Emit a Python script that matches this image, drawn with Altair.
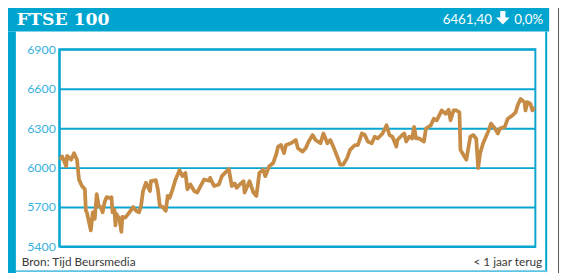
import altair as alt
import pandas as pd

# ---- data ----
days = [0, 2, 6, 7, 11, 14, 17, 19, 22, 25,
        26, 27, 31, 33, 35, 37, 39, 41, 43, 45,
        47, 51, 52, 53, 55, 56, 57, 60, 62, 63,
        66, 69, 74, 77, 80, 82, 84, 87, 91, 92,
        97, 99, 101, 104, 107, 109, 111, 114, 117, 121,
        124, 127, 129, 132, 136, 139, 141, 146, 151, 152,
        156, 161, 164, 171, 174, 177, 179, 182, 186, 187,
        192, 196, 199, 202, 206, 208, 212, 216, 219, 221,
        224, 227, 229, 234, 239, 241, 246, 249, 252, 256,
        259, 264, 267, 271, 274, 277, 281, 284, 287, 291,
        294, 299, 302, 306, 309, 312, 316, 319, 322, 327,
        331, 334, 337, 341, 342, 347, 349, 351, 354, 357,
        359, 361, 364, 369, 371, 376, 379, 382, 387, 391,
        394, 396, 399, 402, 405, 406, 409, 412, 416, 419,
        422, 424, 426, 429, 434, 437, 441, 444, 446, 451,
        454, 459, 462, 464, 467, 471, 472, 474, 477, 479,
        481]
values = [6060, 6085, 6010, 6090, 6060, 6110, 6060, 5910, 5860, 5835,
          5672, 5660, 5522, 5660, 5610, 5798, 5710, 5700, 5660, 5737,
          5775, 5768, 5775, 5660, 5680, 5560, 5648, 5610, 5512, 5625,
          5620, 5648, 5700, 5672, 5660, 5710, 5822, 5885, 5822, 5897,
          5905, 5835, 5710, 5700, 5672, 5785, 5770, 5835, 5910, 5980,
          5935, 5960, 5835, 5872, 5822, 5810, 5840, 5910, 5900, 5922,
          5860, 5872, 5935, 5990, 5860, 5880, 5847, 5870, 5897, 5810,
          5897, 5810, 5785, 5960, 5985, 5935, 6010, 6035, 6098, 6160,
          6172, 6110, 6172, 6185, 6210, 6148, 6122, 6148, 6198, 6248,
          6210, 6185, 6260, 6185, 6210, 6160, 6085, 6022, 6022, 6072,
          6135, 6172, 6172, 6260, 6248, 6198, 6185, 6235, 6222, 6260,
          6322, 6248, 6235, 6160, 6210, 6248, 6260, 6198, 6235, 6222,
          6310, 6222, 6222, 6198, 6298, 6322, 6372, 6360, 6435, 6410,
          6440, 6360, 6435, 6435, 6420, 6135, 6098, 6060, 6235, 6248,
          6220, 5997, 6110, 6185, 6272, 6335, 6298, 6260, 6298, 6310,
          6372, 6398, 6422, 6472, 6522, 6498, 6435, 6498, 6485, 6435,
          6461]
y_ticks = [5400, 5700, 6000, 6300, 6600, 6900]
title_text = "FTSE 100"
last_value = "6461,40"
change = "0,0%"
source_text = "Bron: Tijd Beursmedia"
period_text = "< 1 jaar terug"

BLUE = "#00a5cf"
GRID = "#0aa6d2"
LABEL = "#35b2dd"
LINE = "#c68b45"

df = pd.DataFrame({"dag": days, "koers": values})
one = pd.DataFrame({"k": [0]})

line = alt.Chart(df).mark_line(color=LINE, strokeWidth=3.8, strokeJoin="round").encode(
    x=alt.X("dag:Q", scale=alt.Scale(domain=[-1, 482], nice=False, zero=False), axis=None),
    y=alt.Y("koers:Q",
            scale=alt.Scale(domain=[5400, 6900], nice=False, zero=False),
            axis=alt.Axis(values=y_ticks, format="d", title=None, grid=True, gridColor=GRID,
                          gridWidth=2, domain=True, domainColor=GRID, domainWidth=2,
                          ticks=False, labelColor=LABEL, labelFont="Lato",
                          labelFontSize=12.5, labelPadding=4)),
)


def rect(x, x2, y, y2, color):
    return alt.Chart(one).mark_rect(color=color).encode(
        x=alt.value(x), x2=alt.value(x2), y=alt.value(y), y2=alt.value(y2))


def text(t, x, y, align, font, size, color, weight="normal"):
    return alt.Chart(one).mark_text(text=t, align=align, baseline="alphabetic", font=font,
                                    fontSize=size, color=color, fontWeight=weight).encode(
        x=alt.value(x), y=alt.value(y))


header = rect(-60, 497, -48, -18, BLUE)
left_bar = rect(-60, -44, -18, 227, BLUE)
right_line = rect(493, 495, -18, 226, BLUE)
bottom_line = rect(-44, 495, 224, 226, "#5fc3e4")
outer_line = rect(506, 507, -48, 227, "#555555")

title = text(title_text, -43, -25, "left", "DejaVu Serif", 17.5, "white", "bold")
value_t = text(last_value, 439, -26, "right", "Lato", 13.5, "white")
change_t = text(change, 491, -26, "right", "Lato", 13.5, "white")
arrow = alt.Chart(one).mark_point(
    shape="M-0.38,-1 L0.38,-1 L0.38,-0.05 L1,-0.05 L0,1 L-1,-0.05 L-0.38,-0.05 Z",
    filled=True, color="white", opacity=1, size=190, strokeWidth=0).encode(
    x=alt.value(450), y=alt.value(-32))
source = text(source_text, -38, 220, "left", "Lato", 12, "#3a3a3a")
period = text(period_text, 490, 220, "right", "Lato", 12, "#3a3a3a")

chart = alt.layer(
    header, left_bar, right_line, bottom_line, outer_line,
    line, title, value_t, change_t, arrow, source, period
).properties(
    width=483, height=200,
    autosize=alt.AutoSizeParams(type="none"),
    padding={"left": 52, "top": 40, "right": 25, "bottom": 27},
    background="white",
).configure_view(stroke=GRID, strokeWidth=2)

chart.save("out.html", embed_options={"renderer": "svg", "actions": False})
